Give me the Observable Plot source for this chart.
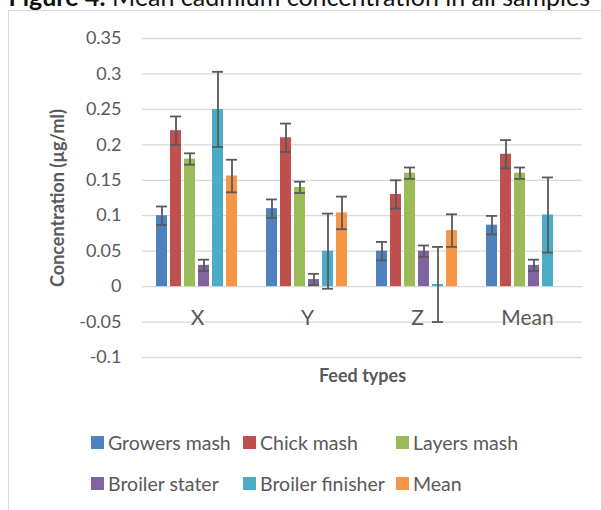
<!DOCTYPE html>
<html><head><meta charset="utf-8">
<script src="https://cdn.jsdelivr.net/npm/d3@7"></script>
<script src="https://cdn.jsdelivr.net/npm/@observablehq/plot@0.6"></script>
<style>
html,body{margin:0;padding:0;background:#fff;overflow:hidden}
body{width:601px;height:510px;position:relative;font-family:Lato,sans-serif;color:#595959}
#frame{position:absolute;left:8px;top:10px;width:800px;height:800px;border-left:1.5px solid #d9d9d9;border-top:1.5px solid #d9d9d9}
#title{position:absolute;right:11px;top:-16px;font-size:25px;line-height:25px;color:#111;white-space:nowrap;font-family:Lato,sans-serif}
#chart{position:absolute;left:0;top:0}
#legend{position:absolute;left:0;top:0;width:601px;height:510px}
.item{position:absolute;display:flex;align-items:center;height:24px;font-size:19.5px;white-space:nowrap;color:#595959}
.sw{width:13px;height:13px;margin-right:4px;flex:none}
g[aria-label="y-axis label"], g[aria-label="fx-axis label"]{font-weight:bold;font-size:18px}
</style>
</head><body>
<div id="frame"></div>
<div id="title"><b>Figure 4:</b> Mean cadmium concentration in all samples</div>
<div id="chart"></div>
<div id="legend"></div>
<script>
const groups = ["X", "Y", "Z", "Mean"];
const series = ["Growers mash", "Chick mash", "Layers mash", "Broiler stater", "Broiler finisher", "Mean"];
const colors = ["#4F81BD", "#C0504D", "#9BBB59", "#8064A2", "#4BACC6", "#F79646"];
const growersMash = [0.10, 0.11, 0.05, 0.0867];
const chickMash = [0.22, 0.21, 0.13, 0.1867];
const layersMash = [0.18, 0.14, 0.16, 0.16];
const broilerStater = [0.03, 0.01, 0.05, 0.03];
const broilerFinisher = [0.25, 0.05, 0.003, 0.101];
const meanSeries = [0.156, 0.104, 0.079, null];
const seriesErrors = [0.013, 0.02, 0.008, 0.008, 0.053, 0.023];
const yTicks = [-0.1, -0.05, 0, 0.05, 0.1, 0.15, 0.2, 0.25, 0.3, 0.35];
const yTickLabels = ["-0.1", "-0.05", "0", "0.05", "0.1", "0.15", "0.2", "0.25", "0.3", "0.35"];
const yTitle = "Concentration (µg/ml)";
const xTitle = "Feed types";

const seriesValues = [growersMash, chickMash, layersMash, broilerStater, broilerFinisher, meanSeries];
const rows = [];
series.forEach((s, si) => {
  groups.forEach((g, gi) => {
    const v = seriesValues[si][gi];
    if (v != null) rows.push({group: g, series: s, value: v, err: seriesErrors[si]});
  });
});
const labelMap = new Map(yTicks.map((t, i) => [t, yTickLabels[i]]));
const errStyle = {stroke: "#595959", strokeWidth: 1.8};

const chart = Plot.plot({
  width: 601, height: 410,
  marginLeft: 141, marginRight: 19, marginTop: 38, marginBottom: 53,
  style: {fontFamily: "Lato, sans-serif", color: "#595959", background: "transparent", overflow: "visible"},
  fx: {domain: groups, padding: 0},
  x: {domain: series, paddingInner: 0.19, paddingOuter: 0.82, axis: null},
  y: {domain: [-0.1, 0.35]},
  color: {domain: series, range: colors},
  marks: [
    Plot.gridY(yTicks, {stroke: "#d9d9d9", strokeOpacity: 1, strokeWidth: 1.3}),
    Plot.barY(rows, {fx: "group", x: "series", y: "value", fill: "series"}),
    Plot.ruleX(rows, {fx: "group", x: "series", y1: d => d.value - d.err, y2: d => d.value + d.err, ...errStyle}),
    Plot.tickY(rows, {fx: "group", x: "series", y: d => d.value + d.err, ...errStyle}),
    Plot.tickY(rows, {fx: "group", x: "series", y: d => d.value - d.err, ...errStyle}),
    Plot.axisY({ticks: yTicks, tickFormat: d => labelMap.get(d), tickSize: 0, tickPadding: 21, fontSize: 18,
      label: yTitle, labelAnchor: "center", labelArrow: "none", labelOffset: 91}),
    Plot.axisFx({anchor: "bottom", tickSize: 0, tickPadding: 3, dy: -50, fontSize: 21,
      label: xTitle, labelAnchor: "center", labelArrow: "none", labelOffset: 24})
  ]
});
document.getElementById("chart").appendChild(chart);

const legend = document.getElementById("legend");
const colX = [91, 243, 396];
const rowY = [442, 483];
series.forEach((s, i) => {
  const item = document.createElement("div");
  item.className = "item";
  item.style.left = colX[i % 3] + "px";
  item.style.top = (rowY[Math.floor(i / 3)] - 12) + "px";
  const sw = document.createElement("span");
  sw.className = "sw";
  sw.style.background = colors[i];
  const tx = document.createElement("span");
  tx.textContent = s;
  item.appendChild(sw);
  item.appendChild(tx);
  legend.appendChild(item);
});
</script>
</body></html>
